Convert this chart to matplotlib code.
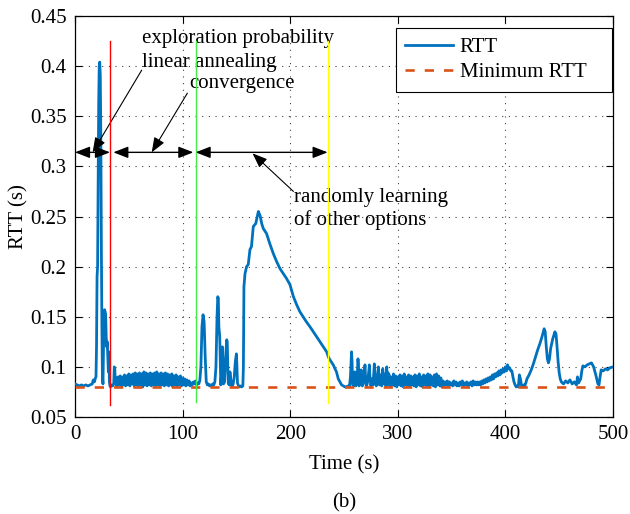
import numpy as np
import matplotlib
matplotlib.use("Agg")
import matplotlib.pyplot as plt

plt.rcParams['font.family'] = ['Liberation Serif', 'DejaVu Serif']
plt.rcParams['font.size'] = 15

# -----------------------------
# RTT trace (time in s, RTT in s)
# -----------------------------
# start-up phase with the two early spikes
t_start = [0, 2, 4, 6, 8, 10, 12, 14, 16, 17, 18, 19, 19.5, 20, 20.5, 21, 21.5,
           22, 22.5, 23, 23.5, 24, 24.5, 25, 25.5, 26, 26.5, 27, 27.5, 28, 28.5,
           29, 29.5, 30, 30.5, 31, 31.5, 32, 32.5, 33, 34, 35, 36, 36.5, 37, 37.5]
v_start = [0.083, 0.082, 0.081, 0.082, 0.081, 0.082, 0.081, 0.082, 0.083, 0.087,
           0.085, 0.089, 0.090, 0.120, 0.190, 0.200, 0.280, 0.360, 0.400, 0.404,
           0.390, 0.330, 0.220, 0.140, 0.090, 0.083, 0.120, 0.155, 0.157, 0.155,
           0.152, 0.130, 0.120, 0.125, 0.110, 0.095, 0.115, 0.085, 0.081, 0.080,
           0.082, 0.081, 0.083, 0.100, 0.098, 0.083]

# noisy band between ~38 s and ~108 s (upper / lower values, one pair per 2 s)
band1_span = (38, 107)
band1_hi = [0.089, 0.090, 0.091, 0.090, 0.092, 0.091, 0.093, 0.092, 0.093, 0.094,
            0.093, 0.094, 0.093, 0.095, 0.094, 0.093, 0.094, 0.093, 0.094, 0.095,
            0.093, 0.094, 0.093, 0.094, 0.093, 0.092, 0.093, 0.091, 0.092, 0.090,
            0.091, 0.089, 0.088, 0.087, 0.086]
band1_lo = [0.081, 0.082, 0.080, 0.082, 0.081, 0.082, 0.081, 0.083, 0.081, 0.082,
            0.081, 0.082, 0.080, 0.082, 0.081, 0.082, 0.081, 0.082, 0.081, 0.082,
            0.081, 0.082, 0.081, 0.082, 0.081, 0.082, 0.080, 0.082, 0.081, 0.082,
            0.081, 0.082, 0.081, 0.082, 0.081]

# spikes after convergence and the big hump
t_mid = [108, 109, 110, 111, 112, 113, 114, 115, 116, 117, 118, 119, 120, 121, 122,
         123, 124, 125, 126, 127, 128, 129, 130, 131, 132, 132.7, 133.2, 133.7, 134.5,
         135.5, 136, 137, 137.5, 138, 139, 140, 141, 141.5, 142, 142.5, 143, 143.5,
         144, 145, 146, 147, 148, 149, 150, 150.5, 151, 152, 153, 154, 155, 156,
         156.5, 157, 158, 159.5, 161, 162.6, 164, 165.7, 168, 170.4, 172, 173.5,
         175, 178, 181, 184.3, 187.4, 190.5, 193.6, 196.7, 199.8, 203, 206, 209,
         212, 215, 218.4, 221.5, 224.6, 227.7, 230.8, 233.9, 235.4, 237, 240, 243,
         244.7, 247.8, 251, 252, 254]
v_mid = [0.084, 0.082, 0.085, 0.083, 0.086, 0.082, 0.084, 0.083, 0.086, 0.100,
         0.140, 0.152, 0.145, 0.110, 0.085, 0.082, 0.083, 0.081, 0.082, 0.081,
         0.083, 0.082, 0.085, 0.100, 0.150, 0.170, 0.168, 0.140, 0.130, 0.082,
         0.090, 0.120, 0.100, 0.083, 0.085, 0.110, 0.127, 0.125, 0.100, 0.083,
         0.090, 0.082, 0.095, 0.085, 0.081, 0.083, 0.090, 0.105, 0.113, 0.100,
         0.084, 0.081, 0.080, 0.081, 0.080, 0.081, 0.100, 0.180, 0.193, 0.200,
         0.202, 0.217, 0.220, 0.240, 0.243, 0.255, 0.251, 0.243, 0.238, 0.233,
         0.223, 0.213, 0.205, 0.198, 0.193, 0.188, 0.182, 0.170, 0.162, 0.155,
         0.150, 0.145, 0.140, 0.135, 0.130, 0.125, 0.120, 0.115, 0.110, 0.107,
         0.102, 0.095, 0.088, 0.082, 0.080, 0.080, 0.081]

# decaying spike train after the yellow marker
t_spk = [255, 256, 257, 257.5, 258, 259, 260, 260.5, 261, 262, 263, 263.5, 264, 265,
         266, 266.5, 267, 268, 269.5, 270, 271, 272, 273.6, 274, 275, 276, 277,
         278.2, 279, 280, 281, 282, 283, 284, 285, 286, 287, 288, 289, 289.7, 290.5,
         291]
v_spk = [0.080, 0.090, 0.115, 0.105, 0.082, 0.081, 0.095, 0.088, 0.081, 0.083,
         0.108, 0.100, 0.081, 0.084, 0.097, 0.085, 0.081, 0.083, 0.102, 0.090,
         0.081, 0.085, 0.102, 0.092, 0.081, 0.088, 0.082, 0.103, 0.085, 0.081,
         0.090, 0.100, 0.082, 0.092, 0.081, 0.098, 0.083, 0.093, 0.081, 0.100,
         0.082, 0.094]

band2_span = (292, 341)
band2_hi = [0.092, 0.090, 0.093, 0.091, 0.090, 0.092, 0.091, 0.093, 0.090, 0.092,
            0.091, 0.090, 0.092, 0.091, 0.093, 0.090, 0.092, 0.091, 0.093, 0.092,
            0.090, 0.092, 0.093, 0.091, 0.089]
band2_lo = [0.080, 0.082, 0.081, 0.080, 0.082, 0.081, 0.080, 0.082, 0.081, 0.080,
            0.082, 0.081, 0.080, 0.082, 0.081, 0.080, 0.082, 0.081, 0.080, 0.082,
            0.081, 0.080, 0.082, 0.081, 0.080]

band3_span = (342, 373)
band3_hi = [0.086, 0.085, 0.086, 0.085, 0.084, 0.086, 0.085, 0.084, 0.085, 0.086,
            0.084, 0.085, 0.084, 0.085, 0.086, 0.085]
band3_lo = [0.081, 0.082, 0.081, 0.082, 0.081, 0.082, 0.081, 0.081, 0.082, 0.081,
            0.082, 0.081, 0.082, 0.081, 0.082, 0.082]

band4_span = (374, 405)
band4_hi = [0.085, 0.085, 0.086, 0.087, 0.088, 0.089, 0.090, 0.092, 0.093, 0.094,
            0.096, 0.097, 0.098, 0.100, 0.102, 0.099]
band4_lo = [0.082, 0.082, 0.083, 0.084, 0.085, 0.086, 0.087, 0.088, 0.090, 0.091,
            0.092, 0.094, 0.095, 0.096, 0.098, 0.096]

t_end = [406, 407, 408, 409, 410, 411, 412, 413, 414, 415, 416, 417, 418, 419, 420,
         422, 424, 426, 428, 430, 432, 434, 436, 437, 438, 439, 440, 441, 442, 444,
         446, 447, 448, 449, 450, 451, 452, 454, 456, 458, 460, 462, 464, 466, 467,
         468, 470, 471, 472, 474, 476, 478, 480, 482, 484, 486, 487, 488, 489, 491,
         493, 495, 497, 500]
v_end = [0.096, 0.090, 0.085, 0.082, 0.080, 0.081, 0.080, 0.092, 0.088, 0.081,
         0.080, 0.082, 0.081, 0.084, 0.088, 0.092, 0.097, 0.103, 0.110, 0.117,
         0.123, 0.130, 0.138, 0.135, 0.120, 0.108, 0.104, 0.108, 0.118, 0.128,
         0.135, 0.133, 0.120, 0.105, 0.094, 0.088, 0.085, 0.083, 0.086, 0.084,
         0.087, 0.083, 0.085, 0.082, 0.090, 0.084, 0.088, 0.096, 0.101, 0.100,
         0.102, 0.103, 0.104, 0.100, 0.092, 0.083, 0.082, 0.090, 0.097, 0.096,
         0.098, 0.097, 0.099, 0.100]

min_rtt = 0.08

# phase markers and annotation arrows
marker_times = [32.8, 112.0, 234.8]
marker_colors = ['#ff0000', '#44ee44', '#ffff00']
marker_bottoms = [0.062, 0.065, 0.064]
marker_top = 0.425
arrow_y = 0.314
phase_spans = [(0, 32.5), (35.6, 110.0), (112.1, 234.8)]


def band(span, hi, lo):
    # alternate the read upper/lower values to draw the dense jitter
    t = np.linspace(span[0], span[1], 2 * len(hi))
    v = np.empty(2 * len(hi))
    v[0::2] = hi
    v[1::2] = lo
    return list(t), list(v)


b1 = band(band1_span, band1_hi, band1_lo)
b2 = band(band2_span, band2_hi, band2_lo)
b3 = band(band3_span, band3_hi, band3_lo)
b4 = band(band4_span, band4_hi, band4_lo)

time = t_start + b1[0] + t_mid + t_spk + b2[0] + b3[0] + b4[0] + t_end
rtt = v_start + b1[1] + v_mid + v_spk + b2[1] + b3[1] + b4[1] + v_end

# -----------------------------
# plot
# -----------------------------
fig = plt.figure(figsize=(6.3, 5.14), dpi=100)
ax = fig.add_axes([75 / 630, 97 / 514, 538 / 630, 401 / 514])

ax.plot(time, rtt, color='#0072BD', lw=2.0, label='RTT', zorder=3)
ax.plot([0, 500], [min_rtt, min_rtt], color='#D95319', lw=1.9,
        dashes=(3.5, 3.8), label='Minimum RTT', zorder=4)

for xm, c, yb in zip(marker_times, marker_colors, marker_bottoms):
    ax.plot([xm, xm], [yb, marker_top], color=c, lw=1.0, zorder=5)

for x0, x1 in phase_spans:
    ax.annotate('', xy=(x1, arrow_y), xytext=(x0, arrow_y),
                arrowprops=dict(arrowstyle='<|-|>,head_length=0.9,head_width=0.35',
                                color='black', lw=1.0, shrinkA=0, shrinkB=0,
                                mutation_scale=10),
                zorder=6)

arrow_kw = dict(arrowstyle='-|>,head_length=0.9,head_width=0.35', color='black',
                lw=0.8, shrinkA=0, shrinkB=0, mutation_scale=10)
ax.annotate('', xy=(16.4, arrow_y), xytext=(62, 0.396), arrowprops=arrow_kw)
ax.annotate('', xy=(71.3, arrow_y), xytext=(104.4, 0.373), arrowprops=arrow_kw)
ax.annotate('', xy=(165, 0.313), xytext=(203, 0.275), arrowprops=arrow_kw)

ax.text(62, 0.423, 'exploration probability', ha='left', va='baseline')
ax.text(62, 0.3994, 'linear annealing', ha='left', va='baseline')
ax.text(106, 0.378, 'convergence', ha='left', va='baseline')
ax.text(203.5, 0.2648, 'randomly learning', ha='left', va='baseline')
ax.text(203.5, 0.2415, 'of other options', ha='left', va='baseline')

ax.set_xlim(0, 500)
ax.set_ylim(0.05, 0.45)
ax.set_xticks([0, 100, 200, 300, 400, 500])
ax.set_yticks([0.05, 0.1, 0.15, 0.2, 0.25, 0.3, 0.35, 0.4, 0.45])
ax.set_yticklabels(['0.05', '0.1', '0.15', '0.2', '0.25', '0.3', '0.35', '0.4', '0.45'])
ax.tick_params(direction='in', top=True, right=True, length=5, width=0.8, pad=6)
ax.grid(True, color='0.25', linestyle=(0, (1, 5)), lw=0.8)
for s in ax.spines.values():
    s.set_linewidth(0.9)

ax.set_xlabel('Time (s)', labelpad=8)
ax.set_ylabel('RTT (s)', labelpad=1)

leg = ax.legend(loc='upper left', bbox_to_anchor=(321 / 538, 0.97, 216 / 538, 0.0),
                mode='expand', borderaxespad=0, fancybox=False, framealpha=1,
                edgecolor='black', handlelength=2.3, labelspacing=0.28,
                borderpad=0.45, handletextpad=0.3)
leg.get_frame().set_linewidth(0.8)

fig.text(344 / 630, 11 / 514, '(b)', ha='center', va='center')

fig.savefig('out.png', dpi=100)
